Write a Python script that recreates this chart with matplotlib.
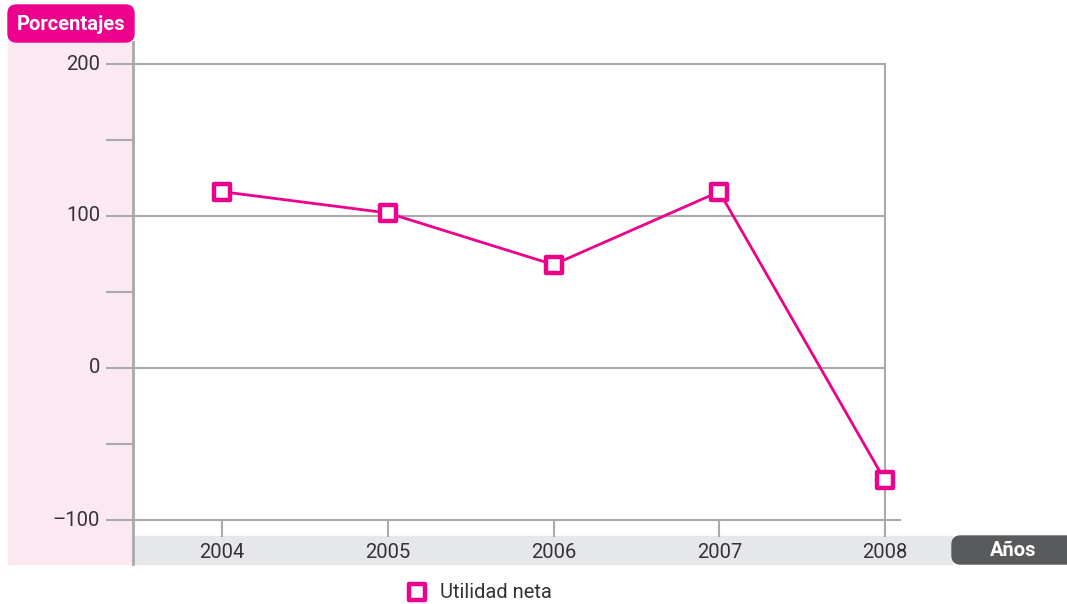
import matplotlib.pyplot as plt
from matplotlib.patches import Rectangle, FancyBboxPatch
from matplotlib.lines import Line2D
from matplotlib.markers import MarkerStyle

years = [2004, 2005, 2006, 2007, 2008]
utilidad = [116, 102, 68, 116, -74]
yticks_major = [200, 100, 0, -100]
yticks_minor = [150, 50, -50]

PINK = "#EC008C"
GRID = "#A7A9AC"
TXT = "#333335"

plt.rcParams['font.family'] = ['Roboto', 'DejaVu Sans']

W, H = 1067, 604
fig = plt.figure(figsize=(W / 100, H / 100), dpi=100)


def fx(px):
    return px / W


def fy(py):
    return 1 - py / H


# fondos
fig.patches.append(Rectangle((fx(8), fy(564)), fx(125), (564 - 42) / H,
                             transform=fig.transFigure, color="#FCE8F1", zorder=0))
fig.patches.append(Rectangle((fx(133), fy(564)), fx(952 - 133), 28 / H,
                             transform=fig.transFigure, color="#E6E7E8", zorder=0))
fig.patches.append(FancyBboxPatch((fx(8), fy(42)), fx(126), 37 / H,
                                  boxstyle="round,pad=0,rounding_size=0.008",
                                  transform=fig.transFigure, color=PINK, zorder=1,
                                  mutation_aspect=W / H))
fig.patches.append(FancyBboxPatch((fx(952), fy(564)), fx(130), 28 / H,
                                  boxstyle="round,pad=0,rounding_size=0.008",
                                  transform=fig.transFigure, color="#58595B", zorder=1,
                                  mutation_aspect=W / H))
fig.text(fx(71), fy(24), "Porcentajes", color="white", fontsize=14.5,
         fontweight="bold", ha="center", va="center")
fig.text(fx(1013), fy(550), "Años", color="white", fontsize=14.5,
         fontweight="bold", ha="center", va="center")

# eje vertical izquierdo
fig.lines.append(Line2D([fx(133), fx(133)], [fy(42), fy(564)], color=GRID,
                        lw=2, transform=fig.transFigure, zorder=3))

ax = fig.add_axes([fx(133), fy(520), fx(900 - 133), (520 - 64) / H])
ax.set_zorder(2)
ax.set_xlim(2004 - 89 / 165.75, 2008 + 15 / 165.75)
ax.set_ylim(-100, 200)
ax.axis("off")
x0 = ax.get_xlim()[0]

for v in yticks_major:
    xend = ax.get_xlim()[1] if v == -100 else 2008
    ax.plot([x0, xend], [v, v], color=GRID, lw=1.5, clip_on=False, zorder=1)
    ax.text(x0 - 33 / 165.75, v, "–100" if v < 0 else str(v),
            ha="right", va="center", fontsize=14.5, color=TXT)

# marcas del eje y
for v in yticks_major + yticks_minor:
    ax.plot([x0 - 26 / 165.75, x0], [v, v], color=GRID, lw=1.5,
            clip_on=False, zorder=1)

# marcas del eje x y etiquetas
for yr in years:
    ax.plot([yr, yr], [-100, -100 - 16 / 1.52], color=GRID, lw=1.5,
            clip_on=False, zorder=1)
    ax.text(yr, -100 - 32 / 1.52, str(yr), ha="center", va="center",
            fontsize=14.5, color=TXT)

# linea vertical derecha
ax.plot([2008, 2008], [200, -100 - 16 / 1.52], color=GRID, lw=1.5,
        clip_on=False, zorder=1)

marca = MarkerStyle("s", joinstyle="round")
ax.plot(years, utilidad, color=PINK, lw=2, marker=marca, markersize=11,
        markerfacecolor="white", markeredgecolor=PINK, markeredgewidth=3.2,
        clip_on=False, zorder=3)

# leyenda
fig.lines.append(Line2D([fx(417)], [fy(592)], marker=marca, markersize=11,
                        markerfacecolor="white", markeredgecolor=PINK,
                        markeredgewidth=3.2, transform=fig.transFigure))
fig.text(fx(440), fy(592), "Utilidad neta", ha="left", va="center",
         fontsize=14.5, color=TXT)

fig.savefig("out.png", dpi=100)
